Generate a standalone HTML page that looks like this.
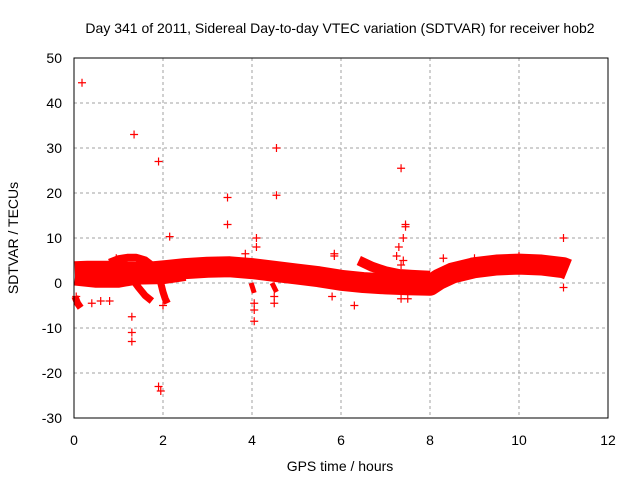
<!DOCTYPE html>
<html><head><meta charset="utf-8"><style>
body{margin:0;background:#fff}
svg{display:block;font-family:"Liberation Sans",Arial,sans-serif}
</style></head><body>
<svg id="chart" width="640" height="480" viewBox="0 0 640 480" xmlns="http://www.w3.org/2000/svg">
<text x="340" y="33" font-size="14" text-anchor="middle" fill="#000">Day 341 of 2011, Sidereal Day-to-day VTEC variation (SDTVAR) for receiver hob2</text>
<text transform="translate(18,238) rotate(-90)" font-size="14" text-anchor="middle" fill="#000">SDTVAR / TECUs</text>
<text x="340" y="471" font-size="14" text-anchor="middle" fill="#000">GPS time / hours</text>
<g id="grid"></g><g id="marks"></g><g id="axes"></g>
</svg>
<script>
const xTicks=[0,2,4,6,8,10,12];
const yTicks=[-30,-20,-10,0,10,20,30,40,50];
// band tracks (hours, values)
const trackMainX=[0.02,0.3,0.6,0.9,1.2,1.5,1.8,2.1,2.5,3,3.5,4,4.5,5,5.5,6,6.5,7,7.5,8,8.2,8.5,9,9.5,10,10.5,11,11.1];
const trackMainY=[2.5,2.6,2.6,2.6,2.4,2.3,2.5,2.8,3.2,3.5,3.6,3.2,2.6,2.0,1.4,0.6,0.1,-0.2,-0.4,-0.5,0.8,2.2,3.4,4,4.2,4,3.4,3.0];
const trackLowX=[0.02,0.5,1,1.4,2,2.5];
const trackLowY=[1,0.5,0.5,1.2,1.3,2];
const trackArcX=[0.8,1.0,1.2,1.4,1.6,1.8];
const trackArcY=[4.5,5.3,5.6,5.6,5,3.5];
const trackUpperX=[6.4,6.7,7,7.3,7.6,8];
const trackUpperY=[5,3.6,2.6,2,1.8,1.6];
const tailAX=[1.3,1.45,1.6,1.75];
const tailAY=[1,-1,-2.8,-4];
const tailBX=[1.95,2.0,2.05,2.1];
const tailBY=[0,-2,-3.5,-4.5];
const tailCX=[0.02,0.08,0.15];
const tailCY=[-3,-4.5,-5.5];
const tailDX=[3.98,4.05];
const tailDY=[0,-2.2];
const tailEX=[4.45,4.55];
const tailEY=[0,-2];
const tailFX=[5.75,5.85];
const tailFY=[1,-1];
const outX=[0.18,1.35,1.9,3.45,3.45,4.55,4.55,7.35,7.45,7.45,7.4,2.15,4.1,4.1,11,1.3,1.3,1.3,1.9,1.95,4.05,4.05,4.5,5.8,6.3,7.35,7.5,11,10,9,3.85,8.3,5.85,5.85,7.3,7.25,0.95,0.8,0.4,0.05,2,7.35,7.4,4.05,4.5,0.6];
const outY=[44.5,33,27,19,13,30,19.5,25.5,13,12.5,10,10.3,10,8,10,-7.5,-11,-13,-23,-24,-6,-8.5,-4.5,-3,-5,-3.5,-3.5,-1,6,5.5,6.5,5.5,6.5,6,8,6,5.5,-4,-4.5,-3,-5,4,5,-4.5,-3,-4];
const X0=74,X1=608,Y0=283,PY=4.5;
const sx=h=>X0+(X1-X0)*h/12, sy=v=>Y0-v*PY;
const NS='http://www.w3.org/2000/svg';
const grid=document.getElementById('grid'),marks=document.getElementById('marks'),axes=document.getElementById('axes');
function mk(tag,attrs,parent){const e=document.createElementNS(NS,tag);for(const k in attrs)e.setAttribute(k,attrs[k]);parent.appendChild(e);return e;}
xTicks.forEach(t=>{
  if(t>0&&t<12){const g=mk('line',{x1:sx(t),x2:sx(t),y1:sy(50),y2:sy(-30),stroke:'#a0a0a0','stroke-dasharray':'3,3','stroke-width':1},grid);
  
  }
  const l=mk('text',{x:sx(t),y:445,'font-size':14,'text-anchor':'middle',fill:'#000'},axes);l.textContent=t;
  
  
});
yTicks.forEach(t=>{
  if(t>-30&&t<50){const g=mk('line',{x1:X0,x2:X1,y1:sy(t),y2:sy(t),stroke:'#a0a0a0','stroke-dasharray':'3,3','stroke-width':1},grid);
  
  }
  const l=mk('text',{x:62,y:sy(t)+5,'font-size':14,'text-anchor':'end',fill:'#000'},axes);l.textContent=t;
  
  
});
const frame=mk('rect',{x:X0,y:sy(50),width:X1-X0,height:sy(-30)-sy(50),fill:'none',stroke:'#000','stroke-width':1},axes);


function track(xs,ys,w,name){
  const p=mk('polyline',{points:xs.map((h,i)=>sx(h)+','+sy(ys[i])).join(' '),fill:'none',stroke:'#ff0000','stroke-width':w,'stroke-linejoin':'round','stroke-linecap':'butt'},marks);
  
  
}
track(trackMainX,trackMainY,21,'main-band');
track(trackLowX,trackLowY,14,'lower-band');
track(trackArcX,trackArcY,8,'arc-band');
track(trackUpperX,trackUpperY,10,'upper-strand');
track(tailAX,tailAY,7,'tail-a');
track(tailBX,tailBY,7,'tail-b');
track(tailCX,tailCY,7,'tail-c');
track(tailDX,tailDY,5,'tail-d');
track(tailEX,tailEY,5,'tail-e');
track(tailFX,tailFY,5,'tail-f');
outX.forEach((h,i)=>{
  const x=sx(h),y=sy(outY[i]);
  const p=mk('path',{d:`M${x-4},${y}H${x+4}M${x},${y-4}V${y+4}`,stroke:'#ff0000','stroke-width':1.2},marks);
  
  
});
</script>
</body></html>
